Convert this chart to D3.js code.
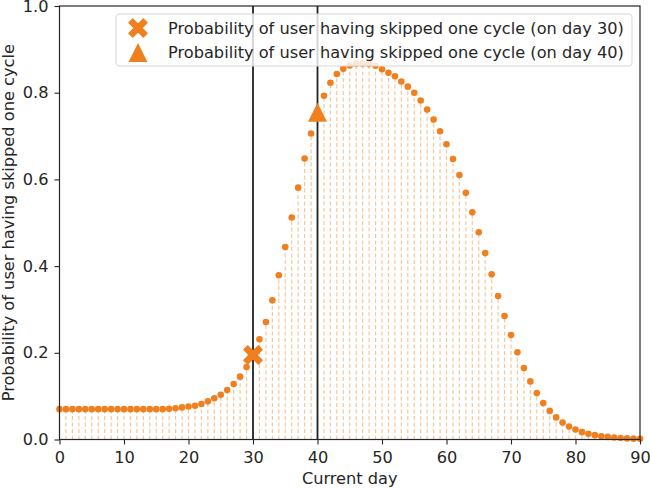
<!DOCTYPE html>
<html><head><meta charset="utf-8">
<script src="https://cdn.jsdelivr.net/npm/d3@7"></script>
<style>body{margin:0;background:#fff}text{font-family:"DejaVu Sans",sans-serif;fill:#262626}</style>
</head><body><svg id="c" width="650" height="489"></svg>
<script>
const days = d3.range(0, 91);
const probs = [0.070,0.070,0.070,0.070,0.070,0.070,0.070,0.070,0.070,0.070,
0.070,0.070,0.070,0.070,0.070,0.070,0.070,0.071,0.072,0.074,
0.076,0.078,0.082,0.088,0.095,0.103,0.114,0.128,0.145,0.167,
0.195,0.231,0.271,0.321,0.379,0.444,0.512,0.581,0.648,0.706,
0.755,0.793,0.823,0.843,0.855,0.863,0.867,0.867,0.866,0.862,
0.854,0.846,0.838,0.826,0.814,0.800,0.782,0.761,0.738,0.711,
0.681,0.647,0.610,0.569,0.524,0.478,0.430,0.381,0.331,0.285,
0.241,0.201,0.165,0.134,0.107,0.084,0.066,0.051,0.039,0.030,
0.023,0.017,0.013,0.010,0.0076,0.006,0.0045,0.0035,0.0025,0.002,0.0015];
const markedDays = [30, 40];
const markerShapes = ["X", "triangle"];
const legendLabels = ["Probability of user having skipped one cycle (on day 30)",
                      "Probability of user having skipped one cycle (on day 40)"];
const xTicks = [0,10,20,30,40,50,60,70,80,90];
const yTicks = [0,0.2,0.4,0.6,0.8,1.0];

const orange = "#f0801f";
const FS = 16.2;
const svg = d3.select("#c");
const L=59.5, R=640, T=6, B=439.5;
const x = d3.scaleLinear().domain([0,90]).range([L,R]);
const y = d3.scaleLinear().domain([0,1]).range([B,T]);

const g = svg.append("g");
g.selectAll("line.stem").data(days).enter().append("line")
 .attr("x1",d=>x(d)).attr("x2",d=>x(d))
 .attr("y1",y(0)).attr("y2",(d,i)=>y(probs[i]))
 .attr("stroke",orange).attr("stroke-opacity",0.45).attr("stroke-width",1.2)
 .attr("stroke-dasharray","4,2.5");
g.selectAll("line.v").data(markedDays).enter().append("line")
 .attr("x1",d=>x(d)).attr("x2",d=>x(d)).attr("y1",y(0)).attr("y2",y(1))
 .attr("stroke","#222").attr("stroke-width",1.8);
g.selectAll("circle").data(days).enter().append("circle")
 .attr("cx",d=>x(d)).attr("cy",(d,i)=>y(probs[i])).attr("r",3.3).attr("fill",orange);

function drawMarker(sel, shape, cx, cy){
  if(shape==="X"){
    const s=9.2, w=3.9;
    const pts=[[-s+w,-s],[0,-w],[s-w,-s],[s,-s+w],[w,0],[s,s-w],[s-w,s],[0,w],[-s+w,s],[-s,s-w],[-w,0],[-s,-s+w]];
    sel.append("path").attr("d","M"+pts.map(p=>(cx+p[0])+","+(cy+p[1])).join("L")+"Z")
      .attr("fill",orange).attr("stroke",orange).attr("stroke-width",1.2).attr("stroke-linejoin","round");
  } else {
    const h=19, hw=9.5;
    sel.append("path").attr("d",`M${cx},${cy-h/2}L${cx+hw},${cy+h/2}L${cx-hw},${cy+h/2}Z`).attr("fill",orange);
  }
}
markedDays.forEach((d,i)=>drawMarker(g, markerShapes[i], x(d), y(probs[d])));

const ax = svg.append("g").attr("transform",`translate(0,${B})`)
 .call(d3.axisBottom(x).tickValues(xTicks).tickSize(5).tickPadding(7).tickFormat(d3.format("d")));
const ay = svg.append("g").attr("transform",`translate(${L},0)`)
 .call(d3.axisLeft(y).tickValues(yTicks).tickSize(5).tickPadding(6).tickFormat(d3.format(".1f")));
[ax,ay].forEach(a=>{a.select(".domain").remove();a.selectAll("line").attr("stroke","#262626").attr("stroke-width",1.1);
  a.selectAll("text").attr("font-size",FS).attr("font-family","DejaVu Sans").attr("fill","#262626");});
svg.append("rect").attr("x",L).attr("y",T).attr("width",R-L).attr("height",B-T)
 .attr("fill","none").attr("stroke","#262626").attr("stroke-width",1.2);

svg.append("text").attr("x",(L+R)/2).attr("y",484).attr("text-anchor","middle").attr("font-size",FS).text("Current day");
svg.append("text").attr("transform",`translate(13.5,${(T+B)/2}) rotate(-90)`).attr("text-anchor","middle").attr("font-size",FS)
 .text("Probability of user having skipped one cycle");

const lg = svg.append("g");
lg.append("rect").attr("x",116).attr("y",14).attr("width",516).attr("height",52).attr("rx",3)
 .attr("fill","#fff").attr("fill-opacity",0.8).attr("stroke","#d6d6d6").attr("stroke-width",1);
legendLabels.forEach((t,i)=>{
  const cy = 28 + i*24.5;
  drawMarker(lg, markerShapes[i], 138, cy);
  lg.append("text").attr("x",168).attr("y",cy+5.5).attr("font-size",FS).text(t);
});
</script></body></html>
